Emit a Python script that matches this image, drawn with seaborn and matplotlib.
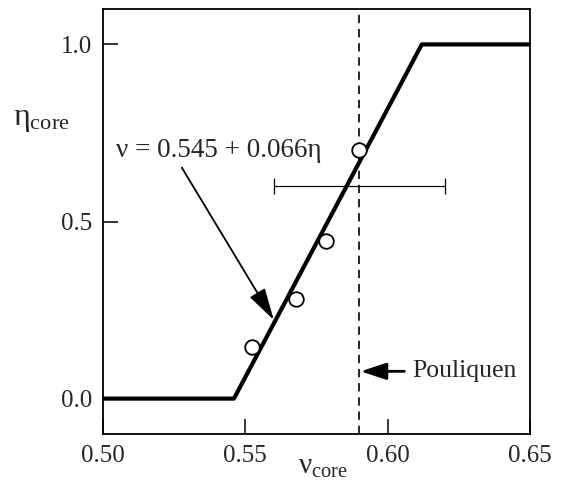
import matplotlib
matplotlib.use("Agg")
import matplotlib.pyplot as plt
import seaborn as sns
import pandas as pd

# piecewise fit curve (nu = 0.545 + 0.066 eta, clipped to 0..1)
nu_curve = [0.50, 0.546, 0.612, 0.65]
eta_curve = [0.0, 0.0, 1.0, 1.0]

# measured points
nu_pts = [0.5525, 0.5677, 0.5784, 0.5900]
eta_pts = [0.146, 0.281, 0.444, 0.701]

# Pouliquen value with its spread
pouliquen_nu = 0.590
pouliquen_err = 0.030
pouliquen_bar_eta = 0.60

sns.set_style("ticks")
plt.rcParams['font.family'] = ['Liberation Serif', 'DejaVu Serif']
plt.rcParams['mathtext.fontset'] = 'custom'
plt.rcParams['mathtext.rm'] = 'Liberation Serif'
plt.rcParams['mathtext.it'] = 'Liberation Serif'
plt.rcParams['font.size'] = 18

fig = plt.figure(figsize=(5.61, 4.83), dpi=100)
ax = fig.add_axes([0.1836, 0.1014, 0.7611, 0.88])

curve = pd.DataFrame({'nu': nu_curve, 'eta': eta_curve})
pts = pd.DataFrame({'nu': nu_pts, 'eta': eta_pts})

sns.lineplot(data=curve, x='nu', y='eta', sort=False, estimator=None,
             color='black', linewidth=3.0, ax=ax)

ax.axvline(pouliquen_nu, color='black', linewidth=1.2, linestyle=(0, (5, 3.5)))

ax.errorbar([pouliquen_nu], [pouliquen_bar_eta], xerr=[pouliquen_err],
            fmt='none', ecolor='black', elinewidth=0.9, capsize=6, capthick=0.9)

sns.scatterplot(data=pts, x='nu', y='eta', marker='o', s=110,
                facecolor='white', edgecolor='black', linewidth=1.3,
                zorder=5, ax=ax)

ax.set_xlim(0.50, 0.65)
ax.set_ylim(-0.1, 1.1)
ax.set_xticks([0.50, 0.55, 0.60, 0.65])
ax.set_xticklabels(['0.50', '0.55', '0.60', '0.65'])
ax.set_yticks([0.0, 0.5, 1.0])
ax.set_yticklabels(['0.0', '0.5', '1.0'])
ax.tick_params(direction='in', length=11, width=1.3, labelsize=18, pad=8)
for s in ax.spines.values():
    s.set_linewidth(1.3)
    s.set_color('black')

ax.set_xlabel(r'$\mathrm{ν}_{\mathrm{core}}$', fontsize=21)
ax.xaxis.set_label_coords(0.515, -0.048)
ax.set_ylabel(r'$\mathrm{η}_{\mathrm{core}}$', fontsize=23, rotation=0)
ax.yaxis.set_label_coords(-0.145, 0.705)

ax.text(0.5045, 0.70, 'ν = 0.545 + 0.066η', fontsize=19.5, va='center', ha='left')
ax.annotate('', xy=(0.5600, 0.222), xytext=(0.5277, 0.652),
            arrowprops=dict(arrowstyle='-|>,head_length=1.1,head_width=0.3',
                            color='black', lw=1.3, shrinkA=0, shrinkB=0))

ax.annotate('Pouliquen', xy=(0.5905, 0.077), xytext=(0.6085, 0.077),
            fontsize=18.5, va='center', ha='left',
            arrowprops=dict(arrowstyle='-|>,head_length=0.85,head_width=0.28',
                            color='black', lw=2.0, shrinkA=3, shrinkB=0))

fig.savefig('out.png', dpi=100)
